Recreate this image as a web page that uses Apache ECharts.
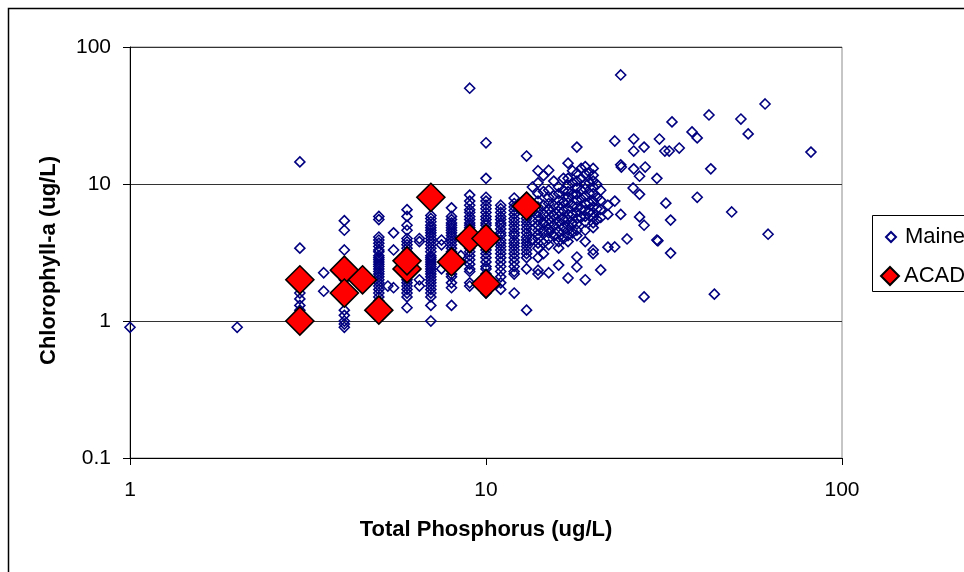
<!DOCTYPE html>
<html>
<head>
<meta charset="utf-8">
<script src="https://cdn.jsdelivr.net/npm/echarts@6/dist/echarts.min.js"></script>
<style>
  html, body { margin: 0; padding: 0; background: #fff; }
  #chart { width: 964px; height: 572px; }
</style>
</head>
<body>
<div id="chart"></div>
<script>
// Maine lakes: chlorophyll-a readings grouped by total phosphorus (ug/L)
const maineColumns = [
  [1,    [0.9]],
  [2,    [0.9]],
  [3,    [14.5, 3.4, 2.0, 1.8, 1.6, 1.45, 1.3, 1.2, 1.0]],
  [3.5,  [2.25, 1.65]],
  [4,    [5.4, 4.6, 3.3, 2.6, 2.3, 2.0, 1.8, 1.6, 1.4, 1.2, 1.1, 1.0, 0.95, 0.9]],
  [4.5,  [2.1, 1.9]],
  [5,    [5.8, 5.5, 4.1, 3.9, 3.7, 3.5, 3.3, 3.2, 3.0, 2.9, 2.8, 2.7, 2.6, 2.5, 2.4, 2.3, 2.2, 2.1, 2.0, 1.9, 1.8, 1.7, 1.6, 1.5, 1.4, 1.3]],
  [5.3,  [1.8]],
  [5.5,  [4.4, 3.3, 1.75]],
  [6,    [6.5, 5.8, 5.0, 4.6, 4.0, 3.8, 3.6, 3.4, 3.2, 3.0, 2.8, 2.6, 2.4, 2.2, 2.0, 1.9, 1.8, 1.7, 1.6, 1.5, 1.25]],
  [6.5,  [4.0, 3.8, 2.0, 1.8]],
  [7,    [5.9, 5.6, 5.3, 5.0, 4.8, 4.6, 4.4, 4.2, 4.0, 3.8, 3.6, 3.4, 3.2, 3.0, 2.9, 2.8, 2.7, 2.6, 2.5, 2.4, 2.3, 2.2, 2.1, 2.0, 1.9, 1.8, 1.7, 1.6, 1.5, 1.3, 1.0]],
  [7.5,  [3.9, 3.6, 2.4]],
  [8,    [6.7, 5.8, 5.5, 5.2, 5.0, 4.8, 4.6, 4.4, 4.2, 4.0, 3.8, 3.6, 3.4, 3.2, 3.0, 2.8, 2.6, 2.4, 2.2, 2.1, 1.9, 1.75, 1.3]],
  [8.5,  [4.0, 3.0]],
  [9,    [50, 8.3, 7.5, 7.0, 6.5, 6.2, 5.8, 5.5, 5.2, 5.0, 4.8, 4.6, 4.4, 4.2, 3.8, 3.6, 3.4, 3.2, 3.0, 2.8, 2.6, 2.4, 2.3, 1.9, 1.8]],
  [10,   [20, 11, 8.0, 7.5, 7.0, 6.6, 6.2, 5.8, 5.5, 5.2, 5.0, 4.7, 4.4, 4.2, 3.9, 3.7, 3.5, 3.3, 3.1, 2.9, 2.7, 2.5, 2.4, 2.2, 2.1, 1.9, 1.6]],
  [11,   [7.0, 6.6, 6.2, 5.8, 5.5, 5.2, 5.0, 4.7, 4.4, 4.2, 3.9, 3.7, 3.5, 3.3, 3.1, 2.9, 2.7, 2.5, 2.3, 2.1, 1.9, 1.7]],
  [12,   [7.9, 7.2, 6.8, 6.4, 6.0, 5.6, 5.3, 5.0, 4.7, 4.4, 4.2, 3.9, 3.7, 3.5, 3.3, 3.1, 2.9, 2.7, 2.5, 2.3, 2.2, 1.6]],
  [13,   [16, 8.0, 7.5, 7.0, 6.5, 6.0, 5.6, 5.3, 5.0, 4.7, 4.4, 4.1, 3.9, 3.7, 3.5, 3.3, 3.1, 2.9, 2.4, 1.2]],
  [13.5, [9.5, 7.2, 6.3, 5.4, 4.6, 3.9]],
  [14,   [12.5, 10.2, 8.5, 7.5, 6.8, 6.2, 5.8, 5.4, 5.0, 4.6, 4.3, 4.0, 3.7, 3.4, 2.9, 2.35, 2.2]],
  [14.5, [11.5, 8.8, 7.0, 6.0, 5.2, 4.5, 3.7, 3.1]],
  [15,   [12.6, 9.0, 8.0, 7.2, 6.6, 6.0, 5.5, 5.1, 4.7, 4.4, 4.0, 3.6, 2.25]],
  [15.5, [10.5, 8.2, 7.0, 5.9, 5.0, 4.2]],
  [16,   [9.5, 8.5, 7.6, 6.9, 6.3, 5.8, 5.3, 4.9, 4.5, 4.1, 3.8, 3.4, 2.56]],
  [16.5, [11.0, 9.0, 7.4, 6.4, 5.6, 4.8, 4.0]],
  [17,   [14.2, 11.0, 9.8, 8.8, 8.0, 7.3, 6.6, 6.0, 5.5, 5.0, 4.6, 4.2, 3.8, 2.06]],
  [17.5, [12.5, 10.2, 8.4, 7.0, 6.0, 5.2, 4.4]],
  [18,   [18.6, 12.0, 10.5, 9.4, 8.4, 7.6, 6.8, 6.2, 5.6, 5.1, 4.6, 4.2, 2.93, 2.48]],
  [18.5, [13.0, 11.0, 9.0, 7.8, 6.6, 5.7]],
  [19,   [13.4, 11.8, 10.0, 9.2, 8.2, 7.2, 6.4, 5.8, 5.3, 4.6, 3.8, 2.0]],
  [19.5, [12.2, 10.2, 8.6, 7.3, 6.2]],
  [20,   [13.0, 11.6, 10.5, 9.5, 8.5, 7.5, 6.8, 6.2, 5.7, 5.2, 4.8, 3.3, 3.1]],
  [20.5, [9.9, 8.0, 6.6, 5.5]],
  [21,   [9.0, 7.6, 6.5, 5.7, 2.36]],
  [22,   [7.0, 6.0, 3.46]],
  [23,   [20.6, 7.5, 3.47]]
];

// Maine lakes with higher phosphorus, scattered individually [TP, Chl-a]
const maineScattered = [
  [23.9, 62.5], [60.8, 38.4], [42.3, 31.9], [52, 29.8], [33.3, 28.4],
  [37.9, 24], [39.2, 21.7], [54.5, 23.2], [81.8, 17.1], [26, 21.3],
  [30.7, 21.3], [26, 17.4], [27.8, 18.6], [31.8, 17.4], [32.7, 17.4],
  [34.9, 18.3], [23.9, 13.8], [24, 13.3], [26, 12.9], [28, 13.3],
  [27, 11.4], [30.2, 11.0], [42.8, 12.9], [25.9, 9.35], [27, 8.4],
  [39.2, 8.0], [32, 7.25], [49, 6.25], [62, 4.3], [23.9, 6.0],
  [27, 5.75], [27.8, 5.0], [33, 5.45], [30.2, 3.9], [30.4, 3.85],
  [24.9, 3.97], [33, 3.13], [27.8, 1.5], [43.8, 1.57]
];

// Acadia National Park lakes [TP, Chl-a]
const acadPoints = [
  [3, 2.0], [3, 1.0], [4, 2.35], [4, 1.6], [4.5, 2.0], [5, 1.2],
  [6, 2.4], [6, 2.75], [7, 8.0], [8, 2.7], [9, 4.0], [10, 4.0],
  [10, 1.87], [13, 6.9]
];

const xTicks = [1, 10, 100];
const yTicks = [0.1, 1, 10, 100];

const maineData = [];
maineColumns.forEach(([tp, list]) => list.forEach(c => maineData.push([tp, c])));
maineScattered.forEach(p => maineData.push(p));

const FONT = '"Liberation Sans", Arial, sans-serif';
const fmt = v => {
  const hit = yTicks.concat(xTicks).find(t => Math.abs(t - v) / t < 1e-6);
  return hit !== undefined ? String(hit) : '';
};

const chart = echarts.init(document.getElementById('chart'), null, { renderer: 'canvas' });
chart.setOption({
  backgroundColor: '#ffffff',
  animation: false,
  grid: {
    left: 130, top: 47, width: 712, height: 411,
    show: true, borderColor: '#8c8c8c', borderWidth: 1, backgroundColor: 'transparent'
  },
  xAxis: {
    type: 'log', logBase: 10, min: 1, max: 100,
    name: 'Total Phosphorus (ug/L)', nameLocation: 'middle', nameGap: 61,
    nameTextStyle: { fontFamily: FONT, fontSize: 22, fontWeight: 'bold', color: '#000' },
    axisLine: { show: true, lineStyle: { color: '#000', width: 1 } },
    axisTick: { show: true, inside: false, length: 7, lineStyle: { color: '#000' } },
    minorTick: { show: false },
    splitLine: { show: false },
    axisLabel: { fontFamily: FONT, fontSize: 21, color: '#000', margin: 22, formatter: fmt }
  },
  yAxis: {
    type: 'log', logBase: 10, min: 0.1, max: 100,
    name: 'Chlorophyll-a (ug/L)', nameLocation: 'middle', nameGap: 70,
    nameTextStyle: { fontFamily: FONT, fontSize: 22, fontWeight: 'bold', color: '#000', padding: [0, 0, 0, -16] },
    axisLine: { show: true, lineStyle: { color: '#000', width: 1 } },
    axisTick: { show: true, inside: false, length: 7, lineStyle: { color: '#000' } },
    splitLine: { show: true, lineStyle: { color: '#333', width: 1 } },
    axisLabel: { fontFamily: FONT, fontSize: 21, color: '#000', margin: 19, formatter: fmt }
  },
  legend: [
    {
      data: ['Maine'], orient: 'vertical', left: 880, top: 221,
      icon: 'diamond', itemWidth: 10, itemHeight: 10, itemGap: 0,
      itemStyle: { opacity: 1 },
      textStyle: { fontFamily: FONT, fontSize: 22, color: '#000', padding: [0, 0, 0, 4] }
    },
    {
      data: ['ACAD'], orient: 'vertical', left: 875, top: 260,
      icon: 'diamond', itemWidth: 18, itemHeight: 18, itemGap: 0,
      itemStyle: { opacity: 1 },
      textStyle: { fontFamily: FONT, fontSize: 22, color: '#000', padding: [0, 0, 0, 0] }
    }
  ],
  graphic: [
    {
      type: 'rect', silent: true, z: -1,
      shape: { x: 8.5, y: 8.5, width: 1100, height: 700 },
      style: { fill: 'none', stroke: '#000', lineWidth: 1.5 }
    },
    {
      type: 'rect', silent: true,
      shape: { x: 872.5, y: 215.5, width: 200, height: 76 },
      style: { fill: '#fff', stroke: '#000', lineWidth: 1 }, z: 0
    }
  ],
  series: [
    {
      name: 'Maine', type: 'scatter', data: maineData,
      symbol: 'diamond', symbolSize: 10,
      itemStyle: { color: 'rgba(255,255,255,0)', borderColor: '#000080', borderWidth: 1.6, opacity: 1 },
      z: 2
    },
    {
      name: 'ACAD', type: 'scatter', data: acadPoints,
      symbol: 'diamond', symbolSize: 28,
      itemStyle: { color: '#ff0000', borderColor: '#000', borderWidth: 1.6, opacity: 1 },
      z: 3
    }
  ]
});
</script>
</body>
</html>
